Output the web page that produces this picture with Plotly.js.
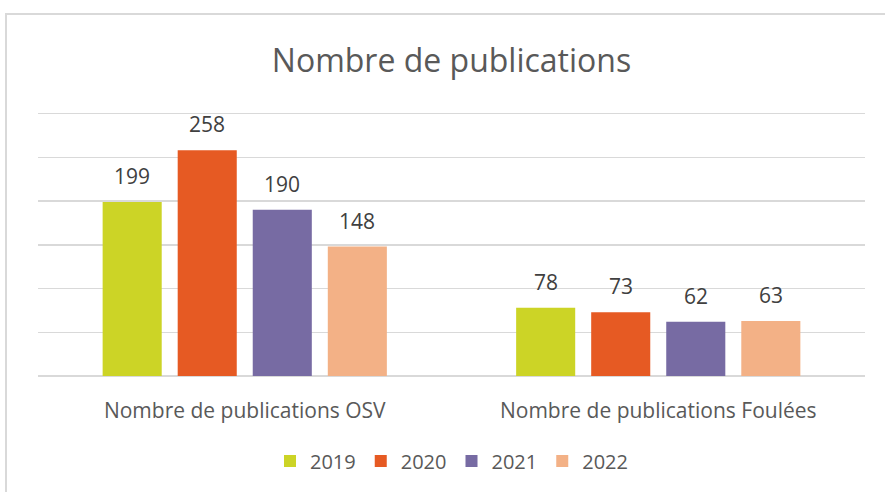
<!DOCTYPE html>
<html>
<head>
<meta charset="utf-8">
<script src="https://cdn.plot.ly/plotly-3.0.1.min.js"></script>
<style>
  html, body { margin: 0; padding: 0; background: #ffffff; }
  #wrap { position: relative; width: 885px; height: 492px; overflow: hidden; }
  #frame { position: absolute; left: 5px; top: 13px; width: 900px; height: 500px;
           border-left: 2px solid #d9d9d9; border-top: 2px solid #d9d9d9; pointer-events: none; }
  #chart { position: absolute; left: 0; top: 0; width: 885px; height: 492px; }
</style>
</head>
<body>
<div id="wrap">
  <div id="chart"></div>
  <div id="frame"></div>
</div>
<script>
const categories = ["Nombre de publications OSV", "Nombre de publications Foulées"];
const seriesNames = ["2019", "2020", "2021", "2022"];
const values2019 = [199, 78];
const values2020 = [258, 73];
const values2021 = [190, 62];
const values2022 = [148, 63];
const seriesValues = [values2019, values2020, values2021, values2022];
const colors = ["#CCD426", "#E65A23", "#776BA3", "#F3B186"];

const FONT = "Open Sans, sans-serif";

const traces = seriesNames.map((name, i) => ({
  type: "bar",
  name: name,
  x: categories,
  y: seriesValues[i],
  marker: { color: colors[i], line: { width: 0 } },
  hoverinfo: "skip"
}));

// data labels as annotations above each bar
const slotPx = 75;
const annotations = [];
seriesValues.forEach((vals, i) => {
  vals.forEach((v, j) => {
    annotations.push({
      x: categories[j], y: v, xref: "x", yref: "y",
      text: String(v), showarrow: false,
      xshift: (i - 1.5) * slotPx, yshift: 26,
      yanchor: "middle",
      font: { family: FONT, size: 21, color: "#404040" }
    });
  });
});

const layout = {
  width: 885, height: 492,
  margin: { l: 38, r: 20, t: 111, b: 116 },
  paper_bgcolor: "#ffffff", plot_bgcolor: "#ffffff",
  title: {
    text: "Nombre de publications",
    font: { family: FONT, size: 32, color: "#595959" },
    x: 0.5, xref: "paper", xanchor: "center",
    y: 1 - 61 / 492, yref: "container", yanchor: "middle"
  },
  barmode: "group",
  bargap: 0.274,
  bargroupgap: 0.213,
  xaxis: {
    type: "category",
    showgrid: false, zeroline: false, showline: false,
    ticks: "", ticklabelstandoff: 20,
    tickfont: { family: FONT, size: 21, color: "#595959" },
    fixedrange: true
  },
  yaxis: {
    range: [0, 303], dtick: 50, tick0: 0,
    showticklabels: false, ticks: "",
    showgrid: true, gridcolor: "#d9d9d9", gridwidth: 1.5,
    zeroline: true, zerolinecolor: "#d9d9d9", zerolinewidth: 1.5,
    showline: false, fixedrange: true
  },
  showlegend: true,
  legend: {
    orientation: "h",
    x: 0.5, xanchor: "center",
    y: (376 - 461) / 265, yanchor: "middle",
    font: { family: FONT, size: 20, color: "#595959" },
    itemwidth: 30, tracegroupgap: 0
  },
  annotations: annotations
};

Plotly.newPlot("chart", traces, layout, { displayModeBar: false, staticPlot: true });
</script>
</body>
</html>
